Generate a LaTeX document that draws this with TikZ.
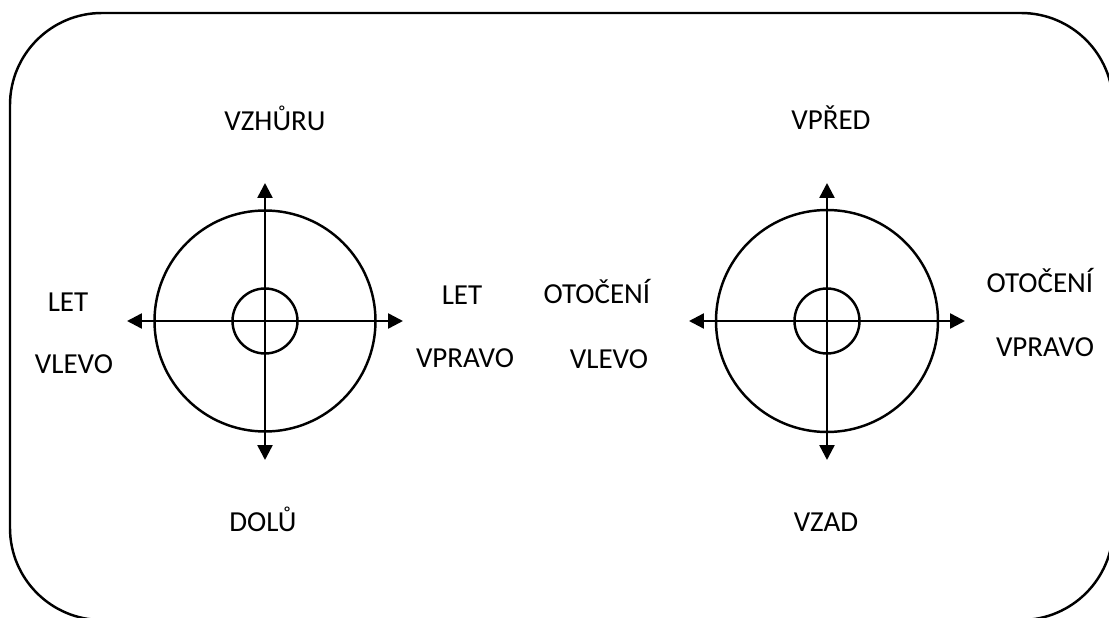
\documentclass[tikz,border=0pt]{standalone}
\usepackage{fontspec}
\setmainfont{Carlito}
\usetikzlibrary{arrows.meta}

\tikzset{
  lbl/.style={anchor=base, inner sep=0pt, font=\fontsize{16.5}{18}\selectfont},
  ring/.style={line width=1.4pt},
  axis/.style={line width=1.4pt, {Triangle[length=8.5pt,width=8.5pt]}-{Triangle[length=8.5pt,width=8.5pt]}}
}

\begin{document}
\begin{tikzpicture}[x=0.02cm, y=-0.02cm]
\useasboundingbox (0,0) rectangle (1109,618);
% frame
\draw [line width=1.4pt, rounded corners=1.84cm] (10,13) rectangle (1113,620);

% left dial: up/down, left/right
\coordinate (lc) at (265,321);
\coordinate (lN) at (265,183);
\coordinate (lS) at (265,460);
\coordinate (lW) at (127,321);
\coordinate (lE) at (403,321);
\draw [ring] (lc) circle [radius=110.5];
\draw [ring] (lc) circle [radius=32.5];
\draw [axis] (lW) -- (lE);
\draw [axis] (lN) -- (lS);

% right dial: forward/back, turn
\coordinate (rc) at (827,321);
\coordinate (rN) at (827,183);
\coordinate (rS) at (827,460);
\coordinate (rW) at (689,321);
\coordinate (rE) at (965,321);
\draw [ring] (rc) circle [radius=111];
\draw [ring] (rc) circle [radius=32.5];
\draw [axis] (rW) -- (rE);
\draw [axis] (rN) -- (rS);

% labels
\node [lbl] (up) at (275,131) {VZHŮRU};
\node [lbl] (down) at (263,531) {DOLŮ};
\node [lbl] (letL) at (68,312) {LET};
\node [lbl] (leftL) at (74,373) {VLEVO};
\node [lbl] (letR) at (462,304) {LET};
\node [lbl] (rightL) at (465,367) {VPRAVO};

\node [lbl] (fwd) at (831,130) {VPŘED};
\node [lbl] (back) at (826,531) {VZAD};
\node [lbl] (turnL) at (597,303) {OTOČENÍ};
\node [lbl] (leftR) at (609,368) {VLEVO};
\node [lbl] (turnR) at (1040,293) {OTOČENÍ};
\node [lbl] (rightR) at (1045,357) {VPRAVO};
\end{tikzpicture}
\end{document}
